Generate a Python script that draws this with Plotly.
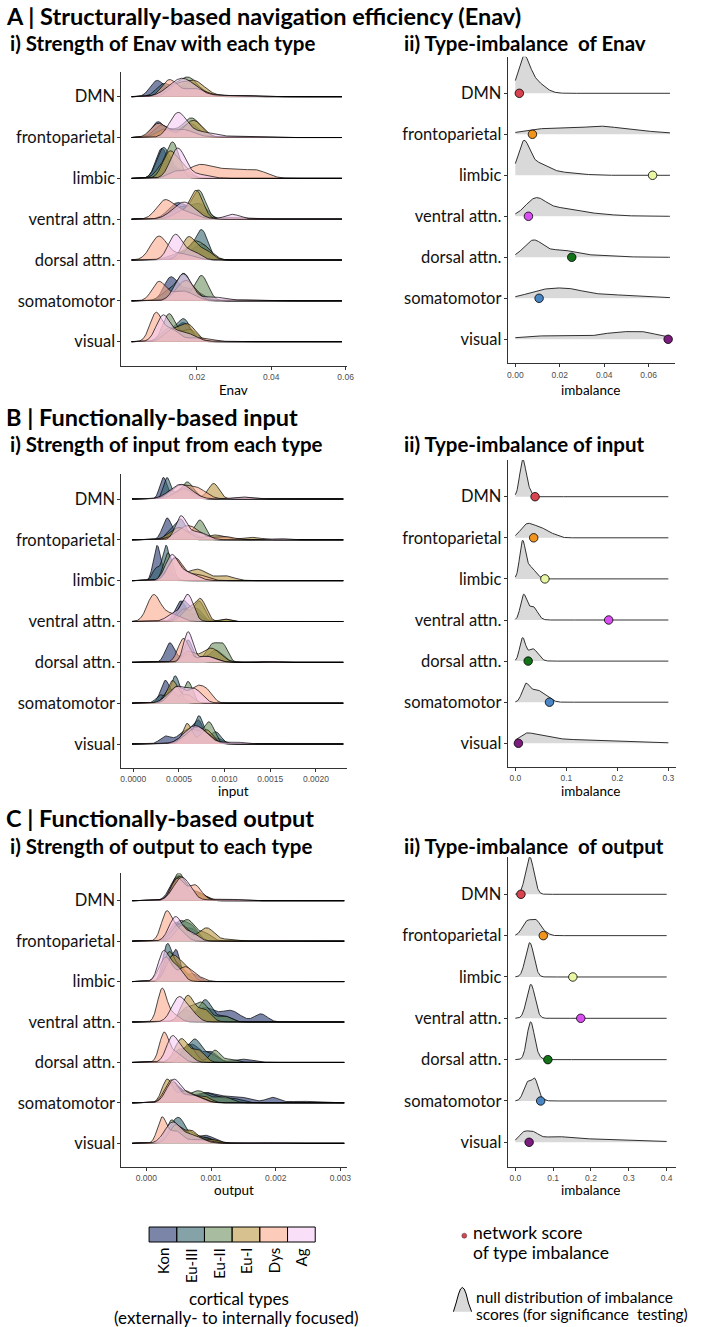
import numpy as np
import plotly.graph_objects as go

FIG_W, FIG_H = 703, 1327
TEXT_FONT = "Lato, 'Open Sans', sans-serif"
TICK_FONT = "'Liberation Sans', Arial, sans-serif"

NETWORKS = ["DMN", "frontoparietal", "limbic", "ventral attn.",
            "dorsal attn.", "somatomotor", "visual"]
CORTICAL_TYPES = ["Kon", "Eu-III", "Eu-II", "Eu-I", "Dys", "Ag"]
TYPE_COLORS = ["#23346c", "#34646e", "#6e8f5f", "#bc9844", "#faa88a", "#f5cbf3"]
TYPE_ALPHA = 0.6
NETWORK_COLORS = ["#d7434f", "#f0941f", "#e8f7a3", "#d84ef0",
                  "#137318", "#4a85c4", "#7b1c7e"]
NULL_FILL = "#d9d9d9"

# Ridge profiles: for each network, one profile per cortical type
# (Kon, Eu-III, Eu-II, Eu-I, Dys, Ag); each profile is a list of
# (centre, height in rows, spread) bumps.
ENAV_STRENGTH = {
    "DMN": [
        [(0.0092, 0.38, 0.0018), (0.016, 0.25, 0.003), (0.028, 0.04, 0.004), (0.047, 0.012, 0.004)],
        [(0.011, 0.30, 0.002), (0.018, 0.35, 0.003), (0.03, 0.03, 0.004)],
        [(0.0175, 0.48, 0.0028), (0.012, 0.15, 0.002), (0.052, 0.012, 0.003)],
        [(0.019, 0.40, 0.003), (0.014, 0.2, 0.002), (0.029, 0.03, 0.003)],
        [(0.0125, 0.40, 0.002), (0.019, 0.2, 0.003), (0.03, 0.03, 0.006)],
        [(0.016, 0.45, 0.0035), (0.028, 0.03, 0.005)],
    ],
    "frontoparietal": [
        [(0.0095, 0.38, 0.0017), (0.017, 0.2, 0.003)],
        [(0.0105, 0.30, 0.002), (0.018, 0.35, 0.0025)],
        [(0.0185, 0.48, 0.0025), (0.012, 0.2, 0.002), (0.03, 0.02, 0.003)],
        [(0.019, 0.42, 0.0025), (0.011, 0.2, 0.002)],
        [(0.0095, 0.33, 0.002), (0.016, 0.2, 0.003), (0.03, 0.03, 0.005)],
        [(0.0148, 0.55, 0.0022), (0.02, 0.15, 0.004), (0.032, 0.03, 0.004)],
    ],
    "limbic": [
        [(0.0105, 0.72, 0.0016), (0.015, 0.2, 0.002)],
        [(0.011, 0.75, 0.0018), (0.016, 0.2, 0.002)],
        [(0.0135, 0.88, 0.0017), (0.010, 0.2, 0.0015)],
        [(0.0125, 0.60, 0.0018), (0.016, 0.3, 0.002)],
        [(0.0205, 0.30, 0.003), (0.028, 0.22, 0.004), (0.036, 0.18, 0.003), (0.014, 0.15, 0.002)],
        [(0.0148, 0.72, 0.002), (0.020, 0.1, 0.003)],
    ],
    "ventral attn.": [
        [(0.0148, 0.40, 0.0025), (0.020, 0.2, 0.002)],
        [(0.016, 0.30, 0.003), (0.021, 0.3, 0.002)],
        [(0.0205, 0.70, 0.0018), (0.016, 0.2, 0.002)],
        [(0.0198, 0.70, 0.0018), (0.015, 0.15, 0.002)],
        [(0.0112, 0.42, 0.0022), (0.016, 0.2, 0.003), (0.030, 0.04, 0.004)],
        [(0.0165, 0.42, 0.003), (0.0295, 0.12, 0.002), (0.045, 0.02, 0.005), (0.056, 0.02, 0.002)],
    ],
    "dorsal attn.": [
        [(0.0215, 0.35, 0.002), (0.016, 0.2, 0.003)],
        [(0.0213, 0.72, 0.0017), (0.017, 0.25, 0.002)],
        [(0.019, 0.40, 0.002), (0.0225, 0.25, 0.002)],
        [(0.0177, 0.55, 0.0018), (0.022, 0.25, 0.002)],
        [(0.0097, 0.57, 0.0022), (0.016, 0.15, 0.003)],
        [(0.0142, 0.62, 0.0019), (0.019, 0.2, 0.002)],
    ],
    "somatomotor": [
        [(0.0128, 0.52, 0.0018), (0.018, 0.3, 0.003)],
        [(0.0165, 0.66, 0.002), (0.012, 0.2, 0.002)],
        [(0.0212, 0.62, 0.0018), (0.015, 0.25, 0.002), (0.04, 0.015, 0.004)],
        [(0.017, 0.50, 0.0025)],
        [(0.0097, 0.45, 0.0018), (0.016, 0.25, 0.003), (0.030, 0.03, 0.004)],
        [(0.0163, 0.66, 0.0022), (0.024, 0.1, 0.003), (0.035, 0.02, 0.004)],
    ],
    "visual": [
        [(0.0165, 0.45, 0.002), (0.012, 0.2, 0.002)],
        [(0.0165, 0.54, 0.0018), (0.012, 0.3, 0.002)],
        [(0.0125, 0.68, 0.0017), (0.018, 0.3, 0.002)],
        [(0.0175, 0.42, 0.0022), (0.013, 0.25, 0.002)],
        [(0.0089, 0.68, 0.0016), (0.013, 0.3, 0.002), (0.020, 0.1, 0.003)],
        [(0.0108, 0.60, 0.0018), (0.016, 0.25, 0.003), (0.028, 0.02, 0.003)],
    ],
}

INPUT_STRENGTH = {
    "DMN": [
        [(0.00033, 0.52, 0.00004), (0.00055, 0.3, 0.00008)],
        [(0.00037, 0.52, 0.00004), (0.0006, 0.3, 0.00008)],
        [(0.00059, 0.42, 0.00007), (0.0004, 0.2, 0.00005)],
        [(0.00088, 0.38, 0.00006), (0.00055, 0.25, 0.0001)],
        [(0.0005, 0.30, 0.0001), (0.0007, 0.25, 0.0001), (0.0012, 0.04, 0.0001)],
        [(0.00052, 0.36, 0.00012), (0.0012, 0.05, 0.0001), (0.0016, 0.02, 0.0001)],
    ],
    "frontoparietal": [
        [(0.00037, 0.52, 0.00005), (0.0006, 0.2, 0.0001)],
        [(0.00052, 0.50, 0.00006), (0.0004, 0.2, 0.00005)],
        [(0.00073, 0.48, 0.00006), (0.0005, 0.3, 0.00008)],
        [(0.0005, 0.30, 0.0001), (0.0009, 0.12, 0.0001), (0.0013, 0.06, 0.0001)],
        [(0.0006, 0.35, 0.00012), (0.001, 0.08, 0.0001)],
        [(0.00052, 0.55, 0.00006), (0.0007, 0.2, 0.0001), (0.0016, 0.03, 0.00008)],
    ],
    "limbic": [
        [(0.00026, 0.85, 0.00004), (0.0004, 0.2, 0.00006)],
        [(0.00036, 0.86, 0.00004), (0.00025, 0.3, 0.00004)],
        [(0.00038, 0.68, 0.00005)],
        [(0.00045, 0.55, 0.00007), (0.0007, 0.28, 0.0001), (0.001, 0.12, 0.0001)],
        [(0.00046, 0.55, 0.00008), (0.0007, 0.15, 0.0001)],
        [(0.00042, 0.60, 0.00007), (0.0006, 0.2, 0.0001)],
    ],
    "ventral attn.": [
        [(0.00052, 0.50, 0.00006), (0.0007, 0.2, 0.00006)],
        [(0.00055, 0.50, 0.00006), (0.0007, 0.3, 0.00006)],
        [(0.00072, 0.50, 0.00006), (0.00055, 0.3, 0.00006), (0.001, 0.06, 0.00005)],
        [(0.00074, 0.52, 0.00006), (0.0006, 0.3, 0.00007), (0.001, 0.06, 0.00005)],
        [(0.00022, 0.62, 0.00007), (0.0004, 0.2, 0.0001)],
        [(0.0006, 0.63, 0.00006), (0.00045, 0.2, 0.00008)],
    ],
    "dorsal attn.": [
        [(0.0004, 0.47, 0.00005), (0.0006, 0.2, 0.00008)],
        [(0.0006, 0.55, 0.00005), (0.0009, 0.3, 0.00008)],
        [(0.00087, 0.45, 0.00007), (0.00099, 0.35, 0.00005), (0.0006, 0.2, 0.00007)],
        [(0.00085, 0.35, 0.0001), (0.0006, 0.25, 0.00007), (0.0015, 0.02, 0.00008)],
        [(0.00055, 0.58, 0.00006), (0.0008, 0.15, 0.0001)],
        [(0.0006, 0.73, 0.00005), (0.0008, 0.15, 0.0001), (0.00155, 0.02, 0.00005)],
    ],
    "somatomotor": [
        [(0.00035, 0.55, 0.00005), (0.0005, 0.2, 0.00006)],
        [(0.00046, 0.67, 0.00005), (0.0003, 0.2, 0.00005)],
        [(0.0006, 0.53, 0.00005), (0.0004, 0.35, 0.00006)],
        [(0.00043, 0.55, 0.00006), (0.0006, 0.2, 0.00006)],
        [(0.00048, 0.40, 0.00008), (0.0007, 0.4, 0.00008), (0.00082, 0.2, 0.00006)],
        [(0.00048, 0.40, 0.0001), (0.00068, 0.3, 0.00008)],
    ],
    "visual": [
        [(0.00035, 0.18, 0.00006), (0.0006, 0.35, 0.0001), (0.00072, 0.4, 0.00005), (0.0009, 0.15, 0.00008)],
        [(0.00072, 0.68, 0.00005), (0.0009, 0.3, 0.00006), (0.00055, 0.2, 0.00007)],
        [(0.00083, 0.53, 0.00006), (0.00065, 0.35, 0.00007)],
        [(0.00059, 0.50, 0.00005), (0.0008, 0.35, 0.00007)],
        [(0.0007, 0.42, 0.00012)],
        [(0.00068, 0.45, 0.00012), (0.0011, 0.05, 0.0001)],
    ],
}

OUTPUT_STRENGTH = {
    "DMN": [
        [(0.00048, 0.60, 0.00011), (0.0008, 0.15, 0.0001)],
        [(0.0005, 0.62, 0.0001), (0.0008, 0.15, 0.0001)],
        [(0.0005, 0.68, 0.0001), (0.0008, 0.18, 0.00012)],
        [(0.00052, 0.60, 0.00011), (0.0008, 0.2, 0.0001)],
        [(0.00048, 0.55, 0.0001), (0.00075, 0.38, 0.0001), (0.0012, 0.04, 0.0002)],
        [(0.00055, 0.58, 0.00013), (0.0012, 0.04, 0.0002), (0.0025, 0.01, 0.0002)],
    ],
    "frontoparietal": [
        [(0.00045, 0.45, 0.0001), (0.0007, 0.3, 0.0001)],
        [(0.0005, 0.45, 0.0001), (0.0007, 0.35, 0.0001)],
        [(0.00065, 0.48, 0.0001), (0.00045, 0.3, 0.0001), (0.0009, 0.2, 0.0001)],
        [(0.00055, 0.40, 0.0001), (0.00093, 0.33, 0.00012), (0.0013, 0.05, 0.0001)],
        [(0.00031, 0.70, 0.00008), (0.0005, 0.3, 0.0001)],
        [(0.00045, 0.60, 0.0001), (0.0007, 0.2, 0.0001)],
    ],
    "limbic": [
        [(0.00046, 0.75, 0.00006), (0.00032, 0.5, 0.00006), (0.0007, 0.2, 0.0001)],
        [(0.00032, 0.86, 0.00007), (0.0005, 0.4, 0.0001)],
        [(0.00035, 0.70, 0.00008), (0.00055, 0.3, 0.0001)],
        [(0.0004, 0.60, 0.0001), (0.0006, 0.35, 0.0001)],
        [(0.0003, 0.60, 0.0001), (0.0006, 0.35, 0.0001), (0.0008, 0.1, 0.0001)],
        [(0.00026, 0.70, 0.00008), (0.00045, 0.4, 0.0001)],
    ],
    "ventral attn.": [
        [(0.0009, 0.35, 0.00015), (0.0013, 0.28, 0.00015), (0.00177, 0.2, 0.0001)],
        [(0.00091, 0.55, 0.0001), (0.0006, 0.3, 0.0001), (0.0012, 0.15, 0.0001)],
        [(0.00085, 0.48, 0.00012), (0.0006, 0.3, 0.0001), (0.0012, 0.15, 0.0001)],
        [(0.00064, 0.65, 0.0001), (0.0009, 0.3, 0.0001)],
        [(0.00024, 0.78, 0.00007), (0.0004, 0.2, 0.0001)],
        [(0.0005, 0.60, 0.00011), (0.0007, 0.2, 0.0001)],
    ],
    "dorsal attn.": [
        [(0.0007, 0.45, 0.00012), (0.001, 0.25, 0.0001), (0.0015, 0.08, 0.00015)],
        [(0.00075, 0.56, 0.0001), (0.0005, 0.3, 0.0001), (0.001, 0.2, 0.0001)],
        [(0.00065, 0.45, 0.0001), (0.00106, 0.3, 0.00008), (0.0013, 0.08, 0.0001)],
        [(0.00054, 0.58, 0.0001), (0.0008, 0.3, 0.0001)],
        [(0.00027, 0.70, 0.00007), (0.00045, 0.25, 0.0001)],
        [(0.0004, 0.63, 0.00009), (0.0006, 0.25, 0.0001)],
    ],
    "somatomotor": [
        [(0.00045, 0.40, 0.00012), (0.0009, 0.25, 0.0002), (0.0014, 0.15, 0.0002), (0.00195, 0.13, 0.0001), (0.0024, 0.04, 0.0002)],
        [(0.0004, 0.50, 0.0001), (0.0009, 0.25, 0.00015), (0.0013, 0.12, 0.00015)],
        [(0.00042, 0.50, 0.0001), (0.0008, 0.3, 0.00015), (0.0012, 0.15, 0.00012)],
        [(0.00032, 0.57, 0.00008), (0.0006, 0.3, 0.00012), (0.0009, 0.15, 0.0001)],
        [(0.00038, 0.55, 0.0001), (0.0007, 0.2, 0.00015)],
        [(0.00042, 0.55, 0.00011), (0.0007, 0.2, 0.00015)],
    ],
    "visual": [
        [(0.0005, 0.40, 0.00012), (0.0009, 0.2, 0.00015)],
        [(0.00053, 0.48, 0.0001), (0.0004, 0.3, 0.0001), (0.0009, 0.15, 0.00012)],
        [(0.00039, 0.57, 0.00009), (0.00065, 0.3, 0.0001), (0.0009, 0.15, 0.0001)],
        [(0.00045, 0.45, 0.0001), (0.0007, 0.3, 0.0001), (0.001, 0.1, 0.0001)],
        [(0.00024, 0.62, 0.00007), (0.00045, 0.3, 0.0001), (0.0008, 0.1, 0.00015)],
        [(0.0004, 0.50, 0.00012), (0.0007, 0.2, 0.00015), (0.0017, 0.02, 0.0002)],
    ],
}

# Null distributions of the imbalance score, one profile per network
ENAV_NULL = [
    [(0.0037, 0.75, 0.0026), (0.0085, 0.3, 0.0042)],
    [(0.009, 0.10, 0.007), (0.022, 0.1, 0.008), (0.038, 0.17, 0.008), (0.052, 0.07, 0.008), (0.065, 0.035, 0.008)],
    [(0.0037, 0.68, 0.0025), (0.009, 0.28, 0.005), (0.02, 0.07, 0.008)],
    [(0.009, 0.38, 0.0045), (0.02, 0.18, 0.008), (0.035, 0.05, 0.01)],
    [(0.008, 0.40, 0.0042), (0.02, 0.16, 0.006), (0.035, 0.05, 0.01)],
    [(0.012, 0.17, 0.007), (0.024, 0.18, 0.007), (0.04, 0.08, 0.01), (0.058, 0.03, 0.01)],
    [(0.008, 0.06, 0.008), (0.025, 0.07, 0.01), (0.045, 0.14, 0.007), (0.057, 0.15, 0.006), (0.067, 0.04, 0.005)],
]
INPUT_NULL = [
    [(0.0145, 0.88, 0.006), (0.026, 0.15, 0.006)],
    [(0.022, 0.30, 0.012), (0.048, 0.24, 0.014), (0.075, 0.06, 0.01)],
    [(0.014, 0.80, 0.0055), (0.028, 0.3, 0.011)],
    [(0.016, 0.58, 0.006), (0.034, 0.33, 0.009)],
    [(0.014, 0.53, 0.0055), (0.034, 0.3, 0.01)],
    [(0.02, 0.38, 0.007), (0.04, 0.3, 0.012), (0.062, 0.09, 0.01)],
    [(0.02, 0.16, 0.014), (0.05, 0.15, 0.025), (0.12, 0.08, 0.05), (0.22, 0.03, 0.06)],
]
OUTPUT_NULL = [
    [(0.038, 0.90, 0.011)],
    [(0.03, 0.32, 0.012), (0.055, 0.35, 0.012), (0.08, 0.06, 0.01)],
    [(0.038, 0.83, 0.011)],
    [(0.041, 0.82, 0.011)],
    [(0.04, 0.88, 0.0095), (0.055, 0.1, 0.01)],
    [(0.032, 0.45, 0.01), (0.052, 0.48, 0.008), (0.07, 0.05, 0.008)],
    [(0.02, 0.18, 0.012), (0.045, 0.2, 0.015), (0.1, 0.12, 0.04), (0.2, 0.07, 0.06), (0.33, 0.03, 0.08)],
]

# Observed network imbalance scores
ENAV_SCORE = [0.0018, 0.0077, 0.0618, 0.0059, 0.0254, 0.0107, 0.0688]
INPUT_SCORE = [0.0387, 0.036, 0.058, 0.183, 0.0252, 0.067, 0.006]
OUTPUT_SCORE = [0.0148, 0.0739, 0.152, 0.173, 0.086, 0.067, 0.0365]

# Value spans covered by the ridgelines
ENAV_SPAN = (0.0024, 0.059)
INPUT_SPAN = (-0.000014, 0.0023)
OUTPUT_SPAN = (-0.00022, 0.00306)
ENAV_NULL_SPAN = (0.0, 0.0696)
INPUT_NULL_SPAN = (0.0, 0.3)
OUTPUT_NULL_SPAN = (0.0, 0.4)

# Tick values and labels
ENAV_TICKS = [0.02, 0.04, 0.06]
ENAV_TICKTEXT = ["0.02", "0.04", "0.06"]
ENAV_NULL_TICKS = [0.0, 0.02, 0.04, 0.06]
ENAV_NULL_TICKTEXT = ["0.00", "0.02", "0.04", "0.06"]
INPUT_TICKS = [0.0, 0.0005, 0.001, 0.0015, 0.002]
INPUT_TICKTEXT = ["0.0000", "0.0005", "0.0010", "0.0015", "0.0020"]
INPUT_NULL_TICKS = [0.0, 0.1, 0.2, 0.3]
INPUT_NULL_TICKTEXT = ["0.0", "0.1", "0.2", "0.3"]
OUTPUT_TICKS = [0.0, 0.001, 0.002, 0.003]
OUTPUT_TICKTEXT = ["0.000", "0.001", "0.002", "0.003"]
OUTPUT_NULL_TICKS = [0.0, 0.1, 0.2, 0.3, 0.4]
OUTPUT_NULL_TICKTEXT = ["0.0", "0.1", "0.2", "0.3", "0.4"]


def rgba(hex_color, alpha):
    h = hex_color.lstrip("#")
    r, g, b = (int(h[i:i + 2], 16) for i in (0, 2, 4))
    return f"rgba({r},{g},{b},{alpha})"


def profile(x, bumps):
    y = np.zeros_like(x)
    for centre, height, spread in bumps:
        y += height * np.exp(-0.5 * ((x - centre) / spread) ** 2)
    return y


def px(x):
    return x / FIG_W


def py(y):
    return 1 - y / FIG_H


fig = go.Figure()
N_ROWS = len(NETWORKS)


def add_ridge(k, x, top, base, fill, line_w):
    xa, ya = ("x" if k == 1 else f"x{k}"), ("y" if k == 1 else f"y{k}")
    fig.add_trace(go.Scatter(
        x=np.concatenate([x, x[::-1]]),
        y=np.concatenate([top, np.full_like(x, base)]),
        fill="toself", fillcolor=fill, mode="lines", line=dict(width=0),
        hoverinfo="skip", showlegend=False, xaxis=xa, yaxis=ya))
    fig.add_trace(go.Scatter(
        x=x, y=top, mode="lines", line=dict(color="black", width=line_w),
        hoverinfo="skip", showlegend=False, xaxis=xa, yaxis=ya))


def strength_panel(k, data, span):
    x = np.linspace(span[0], span[1], 700)
    for i, net in enumerate(NETWORKS):
        base = N_ROWS - 1 - i
        for t, col in enumerate(TYPE_COLORS):
            add_ridge(k, x, base + profile(x, data[net][t]), base,
                      rgba(col, TYPE_ALPHA), 0.7)


def imbalance_panel(k, nulls, scores, span):
    x = np.linspace(span[0], span[1], 500)
    for i in range(N_ROWS):
        base = N_ROWS - 1 - i
        add_ridge(k, x, base + profile(x, nulls[i]), base, NULL_FILL, 0.8)
    fig.add_trace(go.Scatter(
        x=scores, y=[N_ROWS - 1 - i for i in range(N_ROWS)], mode="markers",
        marker=dict(size=8.5, color=NETWORK_COLORS, line=dict(color="black", width=0.8)),
        hoverinfo="skip", showlegend=False,
        xaxis=f"x{k}", yaxis=f"y{k}"))


strength_panel(1, ENAV_STRENGTH, ENAV_SPAN)
imbalance_panel(2, ENAV_NULL, ENAV_SCORE, ENAV_NULL_SPAN)
strength_panel(3, INPUT_STRENGTH, INPUT_SPAN)
imbalance_panel(4, INPUT_NULL, INPUT_SCORE, INPUT_NULL_SPAN)
strength_panel(5, OUTPUT_STRENGTH, OUTPUT_SPAN)
imbalance_panel(6, OUTPUT_NULL, OUTPUT_SCORE, OUTPUT_NULL_SPAN)

# Panel frames in pixels: (left, right, top, bottom), first/last baseline,
# two reference ticks for the value scale, tick values and labels.
PANELS = [
    ((122, 350, 72, 366), (96.7, 341.7), ((0.02, 198.5), (0.04, 273.8)), ENAV_TICKS, ENAV_TICKTEXT),
    ((513.3, 683, 56.7, 363.3), (93.3, 339.3), ((0.0, 521), (0.06, 656)), ENAV_NULL_TICKS, ENAV_NULL_TICKTEXT),
    ((122, 350, 474, 767.7), (499, 744), ((0.0, 134), (0.002, 319)), INPUT_TICKS, INPUT_TICKTEXT),
    ((513.3, 683.3, 460, 766.7), (496.7, 743.3), ((0.0, 521), (0.3, 676)), INPUT_NULL_TICKS, INPUT_NULL_TICKTEXT),
    ((122, 350, 873.3, 1166.7), (900.7, 1143.3), ((0.0, 147.3), (0.002, 278.3)), OUTPUT_TICKS, OUTPUT_TICKTEXT),
    ((513.3, 683.3, 857, 1166.7), (894.3, 1142.3), ((0.0, 521), (0.4, 674.3)), OUTPUT_NULL_TICKS, OUTPUT_NULL_TICKTEXT),
]

layout = dict(
    width=FIG_W, height=FIG_H, margin=dict(l=0, r=0, t=0, b=0),
    paper_bgcolor="white", plot_bgcolor="white", showlegend=False,
    font=dict(family=TEXT_FONT, color="black"),
)
for k, (box, (b_top, b_bot), ((v1, p1), (v2, p2)), tv, tt) in enumerate(PANELS, start=1):
    left, right, top, bottom = box
    per_px = (v2 - v1) / (p2 - p1)
    x_range = [v1 + (left - p1) * per_px, v1 + (right - p1) * per_px]
    row_px = (b_bot - b_top) / (N_ROWS - 1)
    y_range = [-(bottom - b_bot) / row_px, (N_ROWS - 1) + (b_top - top) / row_px]
    sx = "" if k == 1 else str(k)
    layout[f"xaxis{sx}"] = dict(
        domain=[px(left), px(right)], range=x_range, anchor=f"y{sx}",
        showgrid=False, zeroline=False, showline=True, linecolor="#333333", linewidth=1,
        ticks="outside", ticklen=3, tickcolor="#333333", tickwidth=1,
        tickvals=tv, ticktext=tt, tickfont=dict(family=TICK_FONT, size=8.5, color="#4d4d4d"))
    layout[f"yaxis{sx}"] = dict(
        domain=[py(bottom), py(top)], range=y_range, anchor=f"x{sx}",
        showgrid=False, zeroline=False, showline=True, linecolor="#333333", linewidth=1,
        ticks="outside", ticklen=3, tickcolor="#333333", tickwidth=1,
        ticklabelstandoff=-1,
        tickvals=list(range(N_ROWS - 1, -1, -1)), ticktext=NETWORKS,
        tickfont=dict(family=TEXT_FONT, size=16.5, color="#111111"))

annotations = []


def label(text, x, y, size, bold=False, xanchor="left", yanchor="middle", angle=0, color="black"):
    annotations.append(dict(
        text=f"<b>{text}</b>" if bold else text, x=px(x), y=py(y),
        xref="paper", yref="paper", xanchor=xanchor, yanchor=yanchor,
        textangle=angle, showarrow=False,
        font=dict(family=TEXT_FONT, size=size, color=color)))


# Section headings
HEAD, SUB = 23.5, 20.5
label("A | Structurally-based navigation efficiency (Enav)", 3, 16, HEAD, bold=True)
label("i) Strength of Enav with each type", 7, 43, SUB, bold=True)
label("ii) Type-imbalance  of Enav", 406, 43, SUB, bold=True)
label("B | Functionally-based input", 3, 417, HEAD, bold=True)
label("i) Strength of input from each type", 7, 444, SUB, bold=True)
label("ii) Type-imbalance of input", 406, 444, SUB, bold=True)
label("C | Functionally-based output", 3, 818, HEAD, bold=True)
label("i) Strength of output to each type", 7, 846, SUB, bold=True)
label("ii) Type-imbalance  of output", 406, 846, SUB, bold=True)

# Axis titles
label("Enav", 236, 390, 13.5, xanchor="center")
label("imbalance", 598, 390, 13.5, xanchor="center")
label("input", 236, 791, 13.5, xanchor="center")
label("imbalance", 598, 791, 13.5, xanchor="center")
label("output", 236, 1190, 13.5, xanchor="center")
label("imbalance", 598, 1190, 13.5, xanchor="center")

shapes = []
# Cortical type key
SW_LEFT, SW_W, SW_TOP, SW_BOT = 150, 28.05, 1227, 1242
for i, (name, col) in enumerate(zip(CORTICAL_TYPES, TYPE_COLORS)):
    x0 = SW_LEFT + i * SW_W
    shapes.append(dict(type="rect", xref="paper", yref="paper",
                       x0=px(x0), x1=px(x0 + SW_W), y0=py(SW_BOT), y1=py(SW_TOP),
                       fillcolor=rgba(col, TYPE_ALPHA), line=dict(color="black", width=1)))
    label(name, x0 + SW_W / 2, 1246, 15, xanchor="center", yanchor="top", angle=-90)
label("cortical types", 241, 1298, 17, xanchor="center")
label("(externally- to internally focused)", 239, 1317, 17, xanchor="center")

# Imbalance key
shapes.append(dict(type="circle", xref="paper", yref="paper",
                   x0=px(466.8), x1=px(471.8), y0=py(1238.2), y1=py(1233.2),
                   fillcolor=NETWORK_COLORS[0], line=dict(color="#333333", width=0.5)))
label("network score", 476, 1232.5, 17.5)
label("of type imbalance", 476, 1252, 17.5)

bell_x = [458.3, 461, 463.5, 465.5, 467.3, 469.2, 471.2, 473.5, 476.7]
bell_y = [1311.7, 1303, 1294, 1289, 1287.5, 1289, 1294, 1303, 1311.7]
bell = " ".join(("M" if i == 0 else "L") + f" {px(a):.5f},{py(b):.5f}" for i, (a, b) in enumerate(zip(bell_x, bell_y)))
shapes.append(dict(type="path", xref="paper", yref="paper", path=bell + " Z",
                   fillcolor=NULL_FILL, line=dict(width=0)))
shapes.append(dict(type="path", xref="paper", yref="paper", path=bell,
                   fillcolor="rgba(0,0,0,0)", line=dict(color="black", width=1)))
label("null distribution of imbalance", 479, 1296.5, 15.5)
label("scores (for significance  testing)", 479, 1314, 15.5)

layout["annotations"] = annotations
layout["shapes"] = shapes
fig.update_layout(**layout)
fig.write_html("out.html")
